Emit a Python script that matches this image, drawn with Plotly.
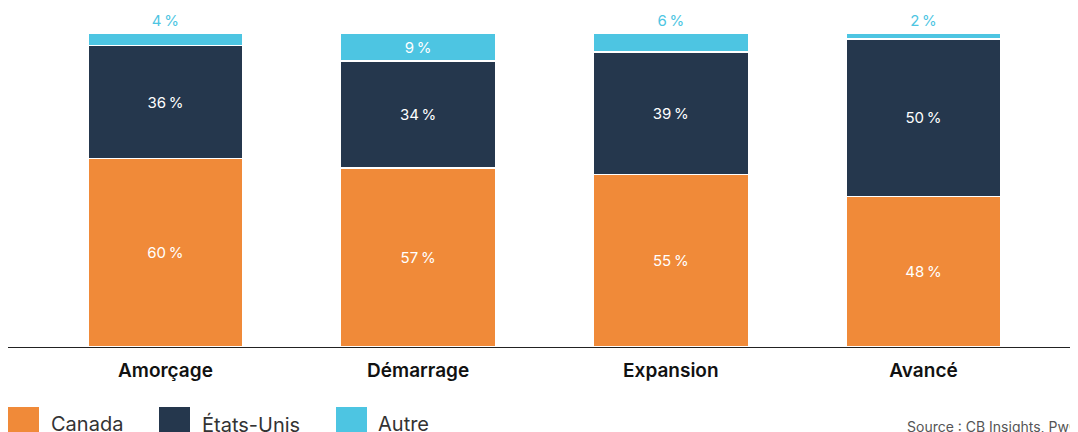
import plotly.graph_objects as go

categories = ["Amorçage", "Démarrage", "Expansion", "Avancé"]
canada = [60, 57, 55, 48]
etats_unis = [36, 34, 39, 50]
autre = [4, 9, 6, 2]
series_names = ["Canada", "États-Unis", "Autre"]
source_text = "Source : CB Insights, PwC MoneyTree"

C_OR = "#F08A39"
C_NV = "#25374D"
C_BL = "#4DC5E2"
FONT = "Inter"

W, H = 1078, 432
ML, MR, MT, MB = 0, 0, 2, 93
PW = W - ML - MR
PH = H - MT - MB
BASE = H - MB  # figure y of baseline


def px_x(x):
    return (x - ML) / PW


def px_y(y):
    return (BASE - y) / PH


def lab(vals):
    return [f"{v}\u202f%" for v in vals]


fig = go.Figure()
common = dict(width=0.613, marker_line=dict(color="white", width=1.5),
              insidetextanchor="middle", constraintext="none",
              textangle=0, hoverinfo="skip", showlegend=False)
fig.add_trace(go.Bar(x=categories, y=canada, name=series_names[0], marker_color=C_OR,
                     text=lab(canada), textposition="inside",
                     insidetextfont=dict(color="white", size=15, family=FONT), **common))
fig.add_trace(go.Bar(x=categories, y=etats_unis, name=series_names[1], marker_color=C_NV,
                     text=lab(etats_unis), textposition="inside",
                     insidetextfont=dict(color="white", size=15, family=FONT), **common))
fig.add_trace(go.Bar(x=categories, y=autre, name=series_names[2], marker_color=C_BL,
                     text=lab(autre),
                     textposition=["inside" if v >= 8 else "outside" for v in autre],
                     insidetextfont=dict(color="white", size=15, family=FONT),
                     outsidetextfont=dict(color=C_BL, size=15, family=FONT),
                     cliponaxis=False, **common))

fig.update_layout(
    barmode="stack",
    width=W, height=H,
    margin=dict(l=ML, r=MR, t=MT, b=MB),
    plot_bgcolor="white", paper_bgcolor="white",
    font=dict(family=FONT, color="#222222"),
    xaxis=dict(range=[-0.623, 3.643], showgrid=False, zeroline=False,
               showline=True, linecolor="#222222", linewidth=1.2,
               ticks="", ticklabelstandoff=6,
               tickfont=dict(size=19, family=FONT, color="#111111", weight=600)),
    yaxis=dict(range=[0, 107.3], visible=False, showgrid=False),
)

# manual legend (figure pixel positions)
legend_pos = [(0, 41), (151, 192), (328, 368)]
colors = [C_OR, C_NV, C_BL]
for (sx, tx), name, col in zip(legend_pos, series_names, colors):
    fig.add_shape(type="rect", xref="paper", yref="paper",
                  x0=px_x(sx), x1=px_x(sx + 31),
                  y0=px_y(H), y1=px_y(399),
                  fillcolor=col, line_width=0, layer="above")
    fig.add_annotation(xref="paper", yref="paper",
                       x=px_x(tx), y=px_y(416),
                       text=name, showarrow=False, xanchor="left", yanchor="middle",
                       font=dict(size=20, family=FONT, color="#333333"))

fig.add_annotation(xref="paper", yref="paper", x=px_x(897), y=px_y(418),
                   text=source_text, showarrow=False, xanchor="left", yanchor="middle",
                   font=dict(size=14, family=FONT, color="#555555"))

fig.write_html("out.html")
